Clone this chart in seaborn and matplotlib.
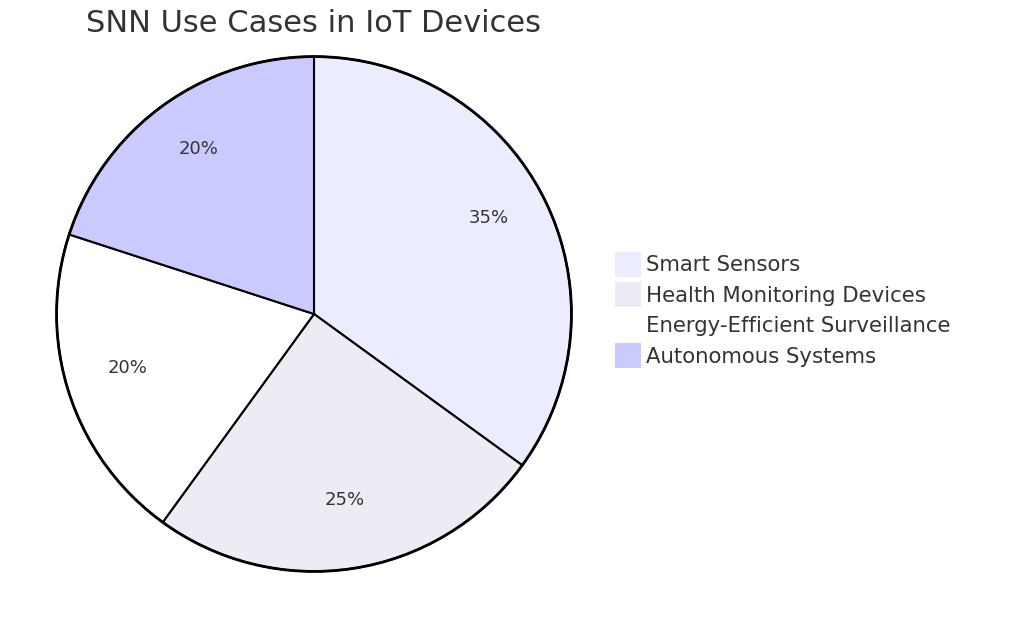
import matplotlib
matplotlib.use("Agg")
import matplotlib.pyplot as plt
import seaborn as sns

categories = ["Smart Sensors", "Health Monitoring Devices",
              "Energy-Efficient Surveillance", "Autonomous Systems"]
values = [35, 25, 20, 20]
colors = ["#ECECFF", "#ECECF4", "#FFFFFF", "#CACAFF"]
title = "SNN Use Cases in IoT Devices"

sns.set_theme(style="white")
plt.rcParams['font.family'] = ['DejaVu Sans']
text_color = "#333333"

fig = plt.figure(figsize=(10.24, 6.3), dpi=100)
fig.patch.set_facecolor("white")
ax = fig.add_axes([54/1024, (630-574)/630, 520/1024, 520/630])
wedges, texts, autotexts = ax.pie(
    values, colors=colors, startangle=90, counterclock=False,
    autopct="%1.0f%%", pctdistance=0.76, radius=1.0,
    wedgeprops=dict(edgecolor="black", linewidth=1.5),
    textprops=dict(color=text_color, fontsize=13))
for t in autotexts:
    x, y = t.get_position()
    t.set_position((x, y + 7/260))
circle = plt.Circle((0, 0), 1.0, fill=False, edgecolor="black", linewidth=2.0)
ax.add_patch(circle)
ax.set_xlim(-1.01, 1.01)
ax.set_ylim(-1.01, 1.01)
ax.set_aspect("equal")
ax.axis("off")

fig.text(314/1024, 1 - 23/630, title, ha="center", va="center",
         fontsize=22, color=text_color)

leg = fig.legend(wedges, categories, loc="upper left",
                 bbox_to_anchor=(615/1024, 1 - 252/630),
                 frameon=False, fontsize=15.3, labelcolor=text_color,
                 handlelength=1.22, handleheight=1.4, handletextpad=0.22,
                 labelspacing=0.28, borderaxespad=0, borderpad=0)
for h in leg.legend_handles:
    h.set_edgecolor("none")

fig.savefig("out.png", dpi=100, facecolor="white")
